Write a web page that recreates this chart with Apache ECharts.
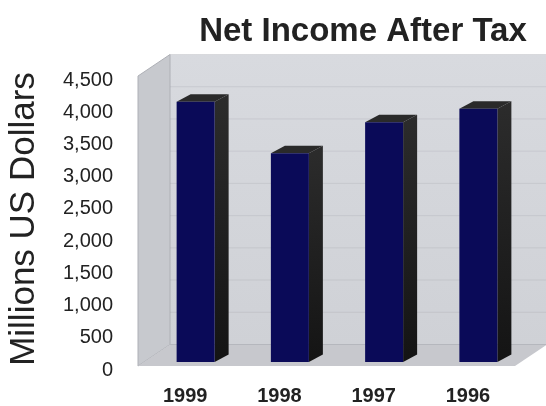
<!DOCTYPE html>
<html>
<head>
<meta charset="utf-8">
<title>Net Income After Tax</title>
<script src="https://cdn.jsdelivr.net/npm/echarts@6/dist/echarts.min.js"></script>
<style>
  html, body { margin: 0; padding: 0; background: #ffffff; }
  #chart { width: 546px; height: 406px; }
</style>
</head>
<body>
<div id="chart"></div>
<script>
// Net income after tax, millions of US dollars
const categories = ['1999', '1998', '1997', '1996'];
const netIncome = [4040, 3240, 3720, 3930];
const axisMin = 0;
const axisMax = 4500;
const axisStep = 500;

// Oblique depth of the box (back wall offset) and of each column
const DEPTH_X = 32, DEPTH_Y = -21.5;
const COL_DX = 14, COL_DY = -7.5;
// the value labels sit a little below the front edge of the box
const FRONT_SHIFT = 4;
const FONT = '"Liberation Sans", Arial, Helvetica, sans-serif';

const chart = echarts.init(document.getElementById('chart'), null, { renderer: 'canvas' });

function renderBox(params, api) {
  const cs = params.coordSys;
  const x0 = cs.x, x1 = cs.x + cs.width;
  const yTop = cs.y - FRONT_SHIFT, yBot = cs.y + cs.height - FRONT_SHIFT;
  const children = [];
  // back wall
  children.push({
    type: 'polygon',
    shape: { points: [[x0 + DEPTH_X, yTop + DEPTH_Y], [x1 + DEPTH_X, yTop + DEPTH_Y],
                      [x1 + DEPTH_X, yBot + DEPTH_Y], [x0 + DEPTH_X, yBot + DEPTH_Y]] },
    style: {
      fill: new echarts.graphic.LinearGradient(0, 0, 0, 1, [
        { offset: 0, color: '#d8dadf' }, { offset: 1, color: '#cfd1d6' }
      ])
    }
  });
  // left side wall
  children.push({
    type: 'polygon',
    shape: { points: [[x0, yTop], [x0 + DEPTH_X, yTop + DEPTH_Y],
                      [x0 + DEPTH_X, yBot + DEPTH_Y], [x0, yBot]] },
    style: { fill: '#c7c9ce', stroke: '#aeb0b6', lineWidth: 1 }
  });
  // floor
  children.push({
    type: 'polygon',
    shape: { points: [[x0, yBot], [x1, yBot], [x1 + DEPTH_X, yBot + DEPTH_Y], [x0 + DEPTH_X, yBot + DEPTH_Y]] },
    style: { fill: '#c7c8cd' }
  });
  // gridlines on back wall
  for (let v = axisMin + axisStep; v <= axisMax; v += axisStep) {
    const y = api.coord([0, v])[1] - FRONT_SHIFT + DEPTH_Y;
    children.push({
      type: 'line',
      shape: { x1: x0 + DEPTH_X, y1: y, x2: x1 + DEPTH_X, y2: y },
      style: { stroke: 'rgba(150,152,160,0.22)', lineWidth: 1 }
    });
  }
  // floor / wall seam
  children.push({
    type: 'line',
    shape: { x1: x0 + DEPTH_X, y1: yBot + DEPTH_Y, x2: x1 + DEPTH_X, y2: yBot + DEPTH_Y },
    style: { stroke: '#b5b7bd', lineWidth: 1 }
  });
  return { type: 'group', children };
}

function renderColumn(params, api) {
  const idx = api.value(0);
  const val = api.value(1);
  const base = api.coord([idx, 0]);
  const c = base[0];
  const B = base[1] - FRONT_SHIFT - 4;
  const h = api.size([0, val])[1];
  const T = B - h;
  const L = c - 8.5, R = c + 29.5;
  return {
    type: 'group',
    children: [
      { type: 'polygon',
        shape: { points: [[R, T], [R + COL_DX, T + COL_DY], [R + COL_DX, B + COL_DY], [R, B]] },
        style: { fill: new echarts.graphic.LinearGradient(0, 0, 0, 1, [
          { offset: 0, color: '#2c2c2c' }, { offset: 1, color: '#141414' }
        ]) } },
      { type: 'polygon',
        shape: { points: [[L, T], [R, T], [R + COL_DX, T + COL_DY], [L + COL_DX, T + COL_DY]] },
        style: { fill: '#2a2a2a' } },
      { type: 'rect',
        shape: { x: L, y: T, width: R - L, height: B - T },
        style: { fill: '#0a0a58' } }
    ]
  };
}

chart.setOption({
  animation: false,
  backgroundColor: '#ffffff',
  title: {
    text: 'Net Income After Tax',
    left: 358, top: 10, textAlign: 'center',
    textStyle: { fontFamily: FONT, fontSize: 33, fontWeight: 'bold', color: '#222222' }
  },
  graphic: [{
    type: 'text', x: 24, y: 219, rotation: Math.PI / 2,
    style: { text: 'Millions US Dollars', font: '35px ' + FONT, fill: '#222222',
             align: 'center', verticalAlign: 'middle' }
  }],
  grid: { left: 138, top: 80, width: 377, height: 291 },
  xAxis: {
    type: 'category', data: categories,
    axisLine: { show: false }, axisTick: { show: false },
    axisLabel: { margin: 16, fontFamily: FONT, fontSize: 20, fontWeight: 'bold', color: '#222222' }
  },
  yAxis: {
    type: 'value', min: axisMin, max: axisMax, interval: axisStep,
    axisLine: { show: false }, axisTick: { show: false }, splitLine: { show: false },
    axisLabel: {
      margin: 25, fontFamily: FONT, fontSize: 20, color: '#222222',
      formatter: v => v.toLocaleString('en-US')
    }
  },
  series: [
    { type: 'custom', renderItem: renderBox, data: [[0, 0]], silent: true, z: 1 },
    { type: 'custom', renderItem: renderColumn, z: 2,
      data: netIncome.map((v, i) => [i, v]) }
  ]
});
</script>
</body>
</html>
